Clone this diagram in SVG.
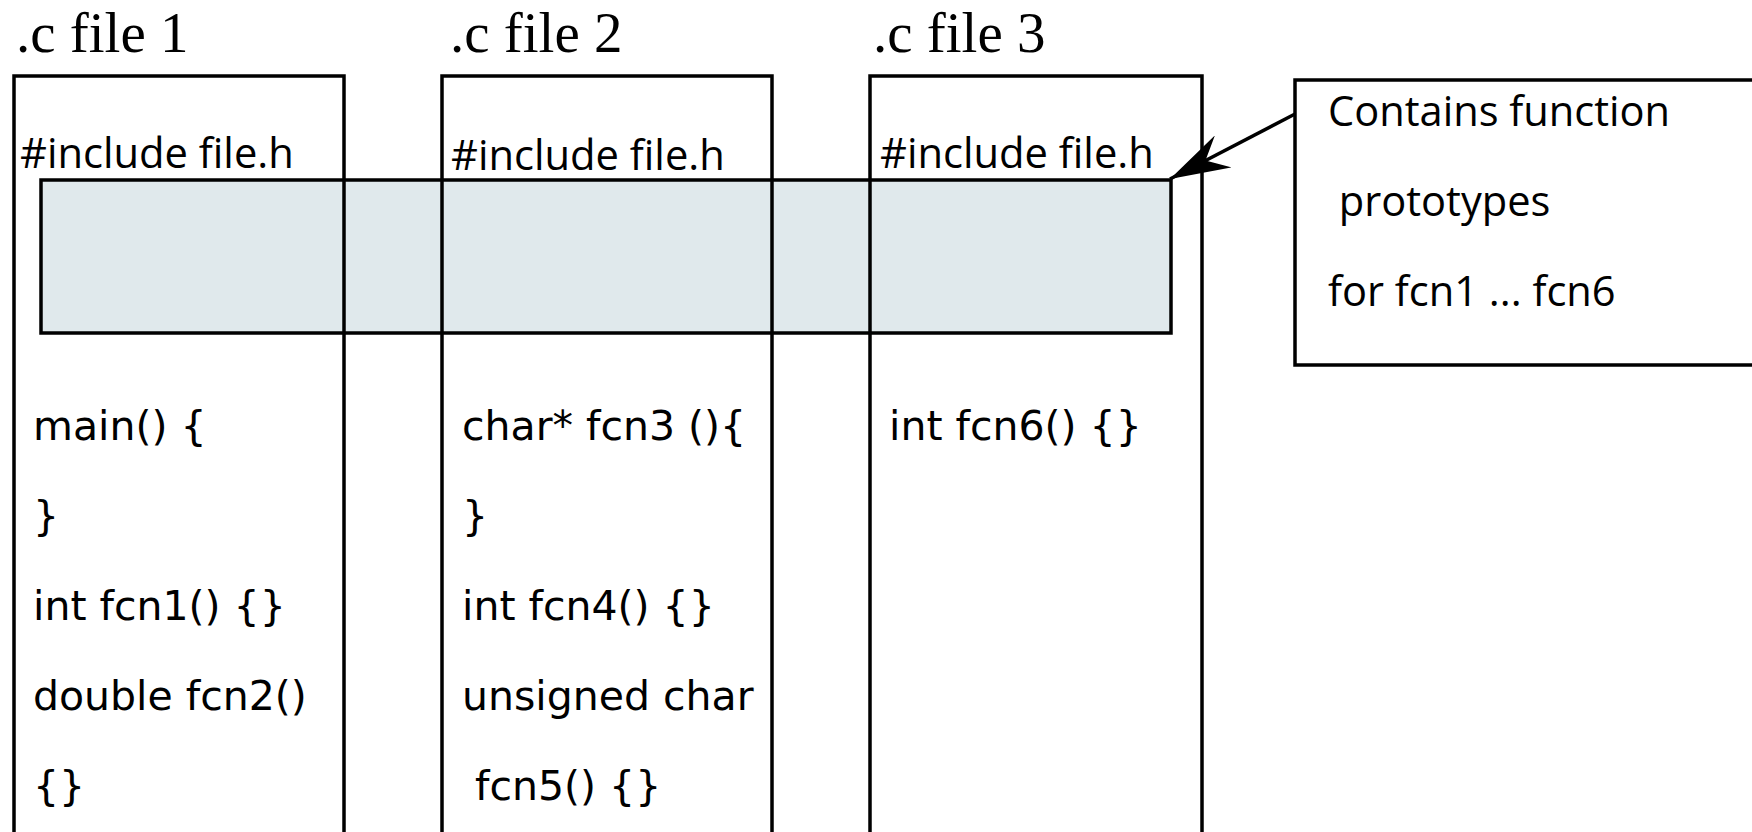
<svg xmlns="http://www.w3.org/2000/svg" width="1752" height="832" viewBox="0 0 1752 832">
<style>
.title{font-family:"Liberation Serif","Times New Roman",serif;font-size:57px;fill:#000}
.inc{font-family:"Open Sans","Noto Sans",sans-serif;font-size:41.7px;fill:#000}
.code{font-family:"DejaVu Sans",sans-serif;font-size:41px;fill:#000}
.note{font-family:"Open Sans","Noto Sans",sans-serif;font-size:41.6px;fill:#000}
.box{fill:none;stroke:#000;stroke-width:3.5}
.hdr{fill:#e0e9ec;stroke:#000;stroke-width:3.5}
</style>
<defs>
<marker id="arr" markerUnits="userSpaceOnUse" viewBox="0 0 60 36" markerWidth="60" markerHeight="36" refX="60" refY="18" orient="auto">
<path d="M0,0 L60,18 L0,36 L20,18 Z" fill="#000"/>
</marker>
</defs>
<rect width="1752" height="832" fill="#fff"/>
<g id="header-band">
<rect class="hdr" x="41" y="180" width="1130" height="153"/>
</g>
<g id="file1">
<text class="title" x="16" y="52">.c file 1</text>
<rect class="box" x="14" y="76" width="330" height="800"/>
<text class="inc" x="20" y="168">#include file.h</text>
<text class="code" x="33" y="440">main() {</text>
<text class="code" x="33" y="530">}</text>
<text class="code" x="33" y="620">int fcn1() {}</text>
<text class="code" x="33" y="710">double fcn2()</text>
<text class="code" x="33" y="800">{}</text>
</g>
<g id="file2">
<text class="title" x="450" y="52">.c file 2</text>
<rect class="box" x="442" y="76" width="330" height="800"/>
<text class="inc" x="451" y="170">#include file.h</text>
<text class="code" x="462" y="440">char* fcn3 (){</text>
<text class="code" x="462" y="530">}</text>
<text class="code" x="462" y="620">int fcn4() {}</text>
<text class="code" x="462" y="710">unsigned char</text>
<text class="code" x="462" y="800" xml:space="preserve"> fcn5() {}</text>
</g>
<g id="file3">
<text class="title" x="873" y="52">.c file 3</text>
<rect class="box" x="870" y="76" width="332" height="800"/>
<text class="inc" x="880" y="168">#include file.h</text>
<text class="code" x="889" y="440">int fcn6() {}</text>
</g>
<g id="note">
<rect class="box" x="1295" y="80" width="480" height="285"/>
<text class="note" x="1328" y="126">Contains function</text>
<text class="note" x="1328" y="216" xml:space="preserve"> prototypes</text>
<text class="note" x="1328" y="306">for fcn1 ... fcn6</text>
</g>
<g id="connectors">
<line x1="1295" y1="114" x2="1170" y2="179" stroke="#000" stroke-width="3.5" marker-end="url(#arr)"/>
</g>
</svg>
